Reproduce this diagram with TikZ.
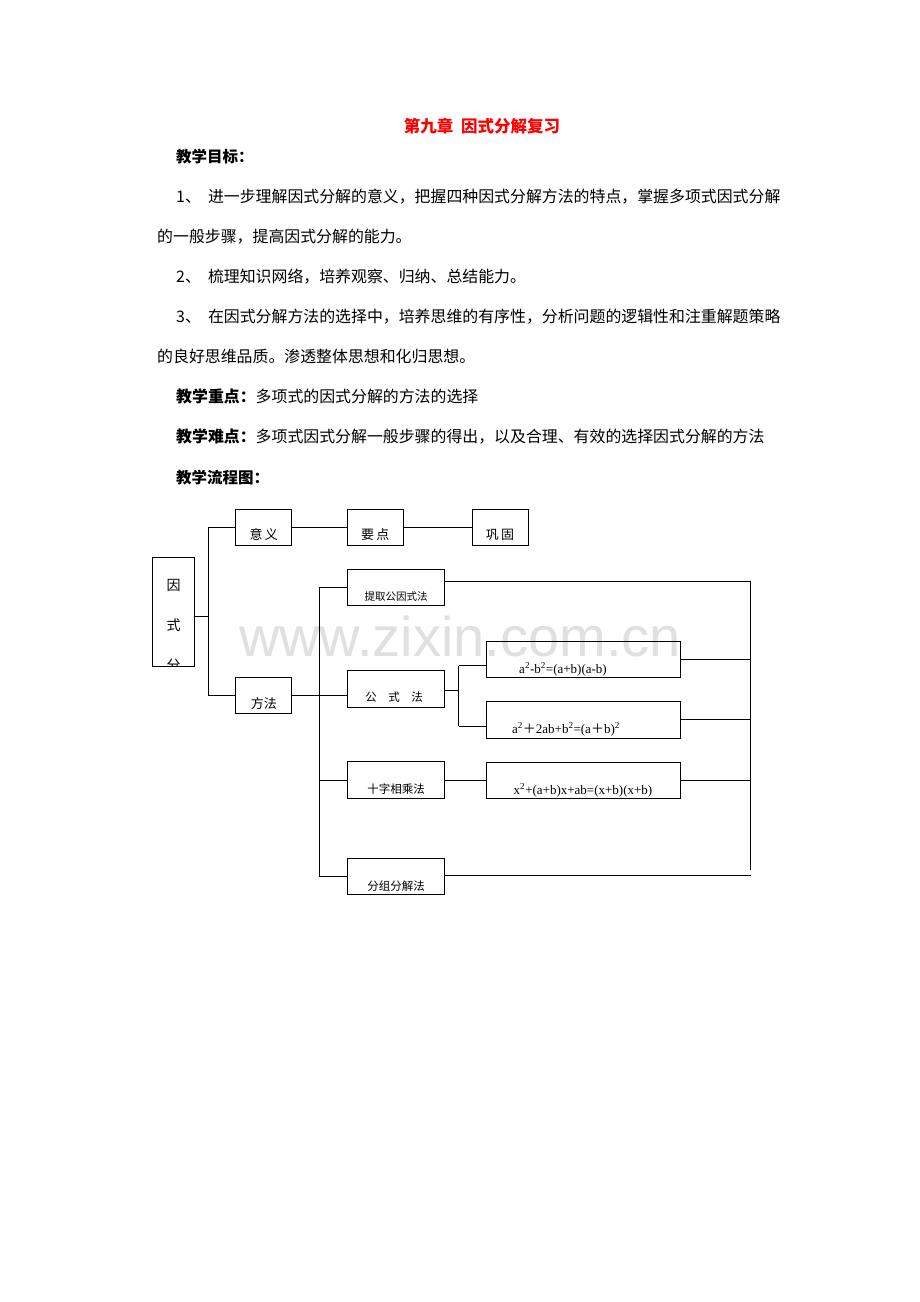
\documentclass[tikz,border=0pt]{standalone}
\usepackage{fontspec}
\setmainfont{Noto Sans CJK SC}
\newfontfamily\wm{Liberation Sans}
\newfontfamily\fml{Liberation Serif}
\newfontfamily\cjkf{Noto Sans CJK SC}
\newcommand{\fp}{{\cjkf ＋}}
\begin{document}
\begin{tikzpicture}[x=1pt,y=-1pt,
  bx/.style={draw,line width=0.8pt,inner sep=0pt},
  ln/.style={line width=0.8pt},
  tx/.style={anchor=base west,inner sep=0pt,font=\fontsize{15.9}{16}\selectfont},
  lb/.style={anchor=base,inner sep=0pt}]
\useasboundingbox (0,0) rectangle (920,1302);
\fill[white] (0,0) rectangle (920,1302);
% text
\node[lb,text=red,font=\fontsize{16.5}{16}\selectfont\bfseries] (title) at (482,132) {第九章\ \ 因式分解复习};
\node[tx,font=\fontsize{15.5}{15}\selectfont\bfseries] (t1) at (176,162) {教学目标：};
\node[tx] (t2) at (176,202) {1、\ \ 进一步理解因式分解的意义，把握四种因式分解方法的特点，掌握多项式因式分解};
\node[tx] (t3) at (157,242) {的一般步骤，提高因式分解的能力。};
\node[tx] (t4) at (176,282) {2、\ \ 梳理知识网络，培养观察、归纳、总结能力。};
\node[tx] (t5) at (176,322) {3、\ \ 在因式分解方法的选择中，培养思维的有序性，分析问题的逻辑性和注重解题策略};
\node[tx] (t6) at (157,362) {的良好思维品质。渗透整体思想和化归思想。};
\node[tx] (t7) at (176,402) {\textbf{教学重点：}多项式的因式分解的方法的选择};
\node[tx] (t8) at (176,442) {\textbf{教学难点：}多项式因式分解一般步骤的得出，以及合理、有效的选择因式分解的方法};
\node[tx,font=\fontsize{15.5}{15}\selectfont\bfseries] (t9) at (176,483) {教学流程图：};
% watermark
\node[lb,text=black!12,font=\wm\fontsize{56}{56}\selectfont] (wm) at (460,656) {www.zixin.com.cn};
% boxes
\draw[bx] (152.6,557) rectangle (194.5,666);
\begin{scope}
\clip (152.6,557) rectangle (194.5,666);
\node[lb,font=\fontsize{14}{14}\selectfont] (c1) at (173.5,590) {因};
\node[lb,font=\fontsize{14}{14}\selectfont] (c2) at (173.5,630) {式};
\node[lb,font=\fontsize{14}{14}\selectfont] (c3) at (173.5,670) {分};
\end{scope}
\coordinate (root) at (194.5,616);
\node[bx,minimum width=56pt,minimum height=36pt] (yy) at (263.8,527) {};
\node[lb,font=\fontsize{13}{13}\selectfont] at (263.8,539) {意\,义};
\node[bx,minimum width=56pt,minimum height=36pt] (yd) at (375.3,527) {};
\node[lb,font=\fontsize{13}{13}\selectfont] at (375.3,539) {要\,点};
\node[bx,minimum width=56pt,minimum height=36pt] (gg) at (500,527) {};
\node[lb,font=\fontsize{13}{13}\selectfont] at (500,539) {巩\,固};
\node[bx,minimum width=56pt,minimum height=36pt] (ff) at (263.8,695.8) {};
\node[lb,font=\fontsize{13}{13}\selectfont] at (263.8,708) {方法};
\foreach \n/\y in {m1/587.3, m2/689, m3/780, m4/876.5}{
  \node[bx,minimum width=97pt,minimum height=36.5pt] (\n) at (396.1,\y) {};
}
\node[lb,font=\fontsize{10.5}{10.5}\selectfont] at (396.1,600) {提取公因式法};
\node[lb,font=\fontsize{11.5}{11.5}\selectfont] at (394,701) {公\quad 式\quad 法};
\node[lb,font=\fontsize{11.5}{11.5}\selectfont] at (396.1,793) {十字相乘法};
\node[lb,font=\fontsize{11.5}{11.5}\selectfont] at (396.1,890) {分组分解法};
\node[bx,minimum width=194.7pt,minimum height=36pt] (f1) at (583.3,659.7) {};
\node[lb,font=\fml\fontsize{13}{13}\selectfont] at (563,673) {a\textsuperscript{2}-b\textsuperscript{2}=(a+b)(a-b)};
\node[bx,minimum width=194.7pt,minimum height=36.3pt] (f2) at (583.3,719.8) {};
\node[lb,font=\fml\fontsize{13}{13}\selectfont] at (566,733) {a\textsuperscript{2}\fp 2ab+b\textsuperscript{2}=(a\fp b)\textsuperscript{2}};
\node[bx,minimum width=194.7pt,minimum height=36pt] (f3) at (583.3,780) {};
\node[lb,font=\fml\fontsize{13}{13}\selectfont] at (583,794) {x\textsuperscript{2}+(a+b)x+ab=(x+b)(x+b)};
% connectors
\coordinate (s1t) at (208.8,527); \coordinate (s1b) at (208.8,695.8);
\draw[ln] (s1t) -- (s1b);
\draw[ln] (root) -- (208.8,616);
\draw[ln] (s1t) -- (yy.west);
\draw[ln] (s1b) -- (ff.west);
\draw[ln] (yy.east) -- (yd.west);
\draw[ln] (yd.east) -- (gg.west);
\coordinate (s2t) at (319.8,587.3); \coordinate (s2b) at (319.8,876.5);
\draw[ln] (s2t) -- (s2b);
\draw[ln] (ff.east) -- (319.8,695.8) -- (m2.west |- 0,695.8);
\draw[ln] (s2t) -- (m1.west);
\draw[ln] (319.8,780) -- (m3.west);
\draw[ln] (s2b) -- (m4.west);
\coordinate (s3t) at (458.6,665.7); \coordinate (s3b) at (458.6,726);
\draw[ln] (s3t) -- (s3b);
\draw[ln] (m2.east |- 0,690) -- (458.6,690);
\draw[ln] (s3t) -- (f1.west |- s3t);
\draw[ln] (s3b) -- (f2.west |- s3b);
\draw[ln] (m3.east) -- (f3.west);
\coordinate (rt) at (750.7,581); \coordinate (rb) at (750.7,870);
\draw[ln] (rt) -- (rb);
\draw[ln] (m1.east |- rt) -- (rt);
\draw[ln] (f1.east) -- (750.7,659.7);
\draw[ln] (f2.east) -- (750.7,719.8);
\draw[ln] (f3.east) -- (750.7,780);
\draw[ln] (m4.east |- 0,875) -- (750.7,875);
\end{tikzpicture}
\end{document}
